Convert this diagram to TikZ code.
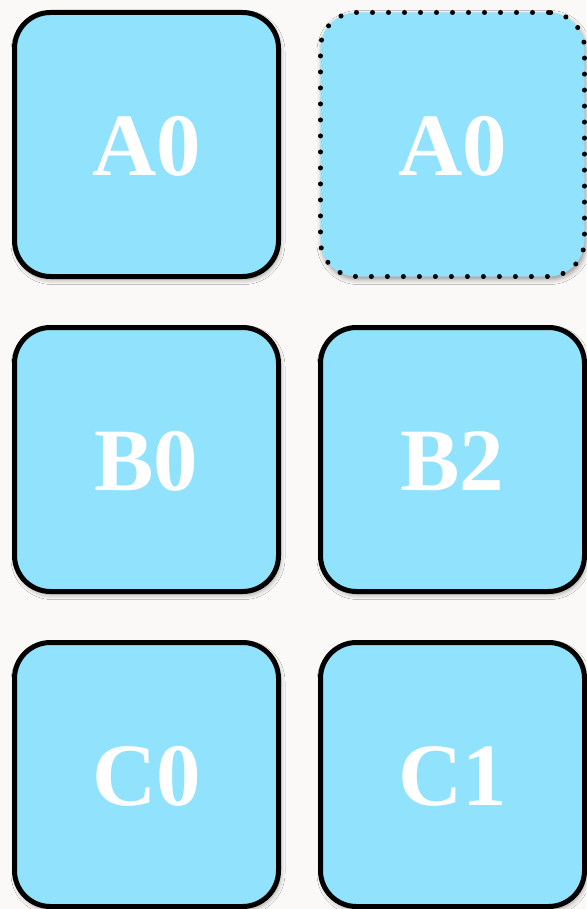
\documentclass[tikz,border=0pt]{standalone}
\usepackage{fontspec}
\setmainfont{Liberation Serif}
\usetikzlibrary{shadows.blur}
\definecolor{bgc}{HTML}{FAF9F7}
\definecolor{boxc}{HTML}{91E2FC}
\tikzset{
  tile/.style={draw=black, fill=boxc, line width=5pt, rounded corners=36pt,
    minimum width=264pt, minimum height=264pt, inner sep=0pt, outer sep=0pt,
    text=white, text depth=0pt,
    font=\fontsize{89}{92}\selectfont\bfseries,
    blur shadow={shadow xshift=1.5pt, shadow yshift=-3pt, shadow blur radius=5pt, shadow opacity=40}},
  dottile/.style={tile, dash pattern=on 0pt off 16pt, line cap=round}
}
\begin{document}
\begin{tikzpicture}[x=1pt,y=-1pt]
\fill[bgc] (0,0) rectangle (586,909);
\useasboundingbox (0,0) rectangle (586,909);
\node[tile] (a0) at (146.5,144.5) {\raisebox{-3pt}{A0}};
\node[dottile] (a0b) at (452.5,144.5) {\raisebox{-3pt}{A0}};
\node[tile] (b0) at (146.5,459.5) {\raisebox{-3pt}{B0}};
\node[tile] (b2) at (452.5,459.5) {\raisebox{-3pt}{B2}};
\node[tile] (c0) at (146.5,774.5) {\raisebox{-3pt}{C0}};
\node[tile] (c1) at (452.5,774.5) {\raisebox{-3pt}{C1}};
\end{tikzpicture}
\end{document}
